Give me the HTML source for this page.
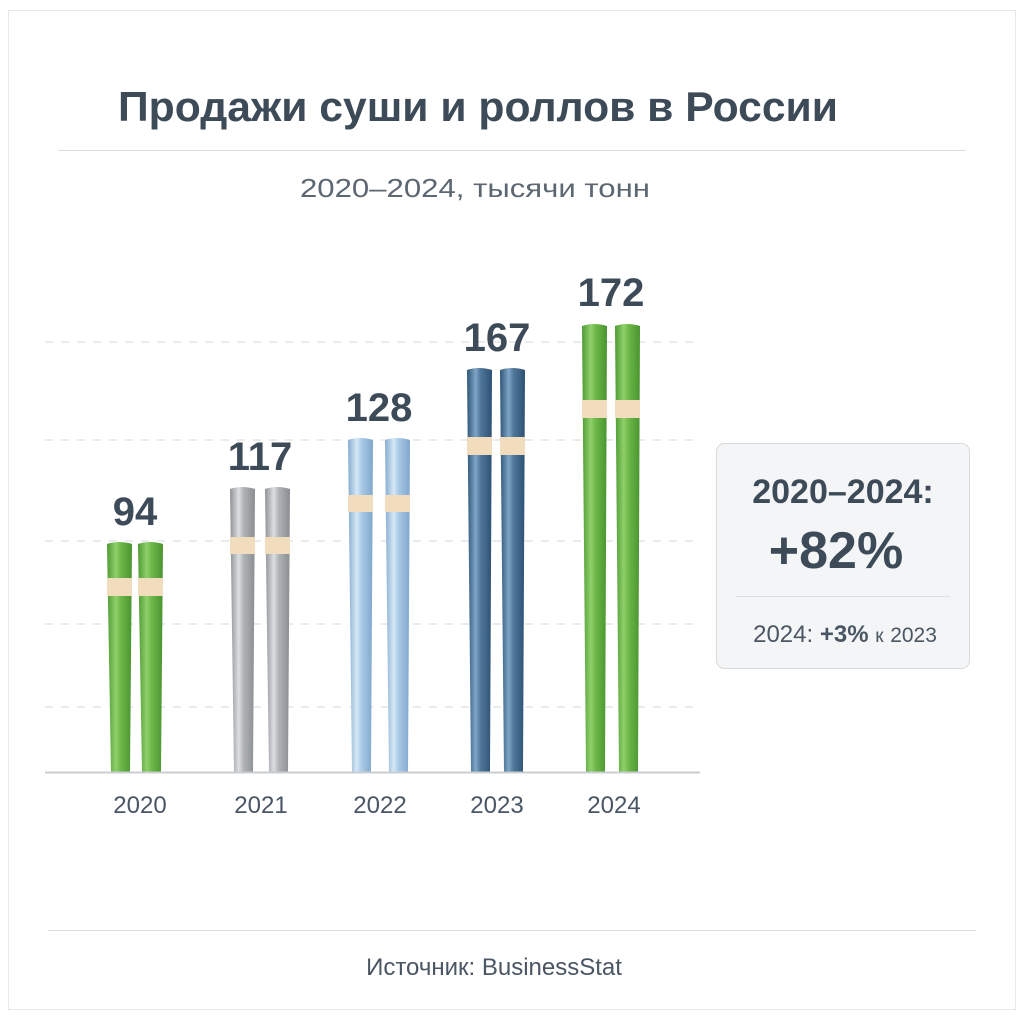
<!DOCTYPE html>
<html><head><meta charset="utf-8"><style>
html,body{margin:0;padding:0;background:#fff}
svg{display:block}
text{font-family:"Liberation Sans","DejaVu Sans",sans-serif}
</style></head><body>
<svg width="1024" height="1024" viewBox="0 0 1024 1024" xmlns="http://www.w3.org/2000/svg">
<defs>
<linearGradient id="g" x1="0" x2="1"><stop offset="0" stop-color="#4f9a34"/><stop offset="0.35" stop-color="#8fd06a"/><stop offset="0.55" stop-color="#6db848"/><stop offset="1" stop-color="#4a9430"/></linearGradient>
<linearGradient id="s" x1="0" x2="1"><stop offset="0" stop-color="#8f9296"/><stop offset="0.35" stop-color="#dcdee0"/><stop offset="0.55" stop-color="#b0b3b6"/><stop offset="1" stop-color="#8a8d91"/></linearGradient>
<linearGradient id="b" x1="0" x2="1"><stop offset="0" stop-color="#86acd0"/><stop offset="0.35" stop-color="#d6e8f7"/><stop offset="0.55" stop-color="#a9c9e6"/><stop offset="1" stop-color="#7fa6cb"/></linearGradient>
<linearGradient id="d" x1="0" x2="1"><stop offset="0" stop-color="#2f5578"/><stop offset="0.35" stop-color="#7ea4c6"/><stop offset="0.55" stop-color="#4f7699"/><stop offset="1" stop-color="#2d5174"/></linearGradient>
</defs>
<rect x="8.5" y="10.5" width="1007" height="999" fill="#fff" stroke="#e6e8ea"/>
<text x="478" y="121" text-anchor="middle" font-size="42" font-weight="bold" fill="#3d4a58" textLength="720" lengthAdjust="spacingAndGlyphs">Продажи суши и роллов в России</text>
<line x1="58" y1="150.5" x2="966" y2="150.5" stroke="#dcdfe2"/>
<text x="475" y="197" text-anchor="middle" font-size="26" fill="#5c6772" textLength="350" lengthAdjust="spacingAndGlyphs">2020–2024, тысячи тонн</text>
<g stroke="#d4d7da" stroke-dasharray="8,8" stroke-width="1">
<line x1="45" y1="342" x2="700" y2="342"/><line x1="45" y1="440" x2="700" y2="440"/>
<line x1="45" y1="541" x2="700" y2="541"/><line x1="45" y1="624" x2="700" y2="624"/>
<line x1="45" y1="707" x2="700" y2="707"/>
</g>
<g>
<path d="M107 544 Q119 540 132 544 L130 772 L111 772 Z" fill="url(#g)"/>
<path d="M138 544 Q150 540 163 544 L161 772 L142 772 Z" fill="url(#g)"/>
<rect x="107" y="578" width="25" height="18" fill="#f1dcbd"/><rect x="138" y="578" width="25" height="18" fill="#f1dcbd"/>
<path d="M230 489 Q242 485 255 489 L253 772 L234 772 Z" fill="url(#s)"/>
<path d="M265 489 Q277 485 290 489 L288 772 L269 772 Z" fill="url(#s)"/>
<rect x="230" y="537" width="25" height="17" fill="#f1dcbd"/><rect x="265" y="537" width="25" height="17" fill="#f1dcbd"/>
<path d="M348 440 Q360 436 373 440 L371 772 L352 772 Z" fill="url(#b)"/>
<path d="M385 440 Q397 436 410 440 L408 772 L389 772 Z" fill="url(#b)"/>
<rect x="348" y="495" width="25" height="17" fill="#f1dcbd"/><rect x="385" y="495" width="25" height="17" fill="#f1dcbd"/>
<path d="M467 370 Q479 366 492 370 L490 772 L471 772 Z" fill="url(#d)"/>
<path d="M500 370 Q512 366 525 370 L523 772 L504 772 Z" fill="url(#d)"/>
<rect x="467" y="437" width="25" height="18" fill="#f1dcbd"/><rect x="500" y="437" width="25" height="18" fill="#f1dcbd"/>
<path d="M582 326 Q594 322 607 326 L605 772 L586 772 Z" fill="url(#g)"/>
<path d="M615 326 Q627 322 640 326 L638 772 L619 772 Z" fill="url(#g)"/>
<rect x="582" y="400" width="25" height="18" fill="#f1dcbd"/><rect x="615" y="400" width="25" height="18" fill="#f1dcbd"/>
</g>
<line x1="45" y1="772.5" x2="700" y2="772.5" stroke="#c9cdd1" stroke-width="2"/>
<g font-size="40" font-weight="bold" fill="#3d4a58" text-anchor="middle">
<text x="135" y="525">94</text><text x="260" y="470">117</text><text x="379" y="421">128</text>
<text x="497" y="351">167</text><text x="611" y="306">172</text>
</g>
<g font-size="24" fill="#4a5663" text-anchor="middle">
<text x="140" y="813">2020</text><text x="261" y="813">2021</text><text x="380" y="813">2022</text>
<text x="497" y="813">2023</text><text x="614" y="813">2024</text>
</g>
<rect x="716.5" y="443.5" width="253" height="225" rx="8" fill="#f4f5f7" stroke="#d8dbde"/>
<text x="843" y="503" text-anchor="middle" font-size="34" font-weight="bold" fill="#3d4a58">2020–2024:</text>
<text x="836" y="568" text-anchor="middle" font-size="52" font-weight="bold" fill="#3d4a58">+82%</text>
<line x1="736" y1="596.5" x2="950" y2="596.5" stroke="#dcdfe2"/>
<text x="845" y="642" text-anchor="middle" font-size="24" fill="#4a5663">2024: <tspan font-weight="bold">+3%</tspan> <tspan font-size="19">к</tspan> <tspan font-size="21">2023</tspan></text>
<line x1="48" y1="930.5" x2="976" y2="930.5" stroke="#dcdfe2"/>
<text x="494" y="975" text-anchor="middle" font-size="24" fill="#4a5663">Источник: BusinessStat</text>
</svg>
</body></html>
